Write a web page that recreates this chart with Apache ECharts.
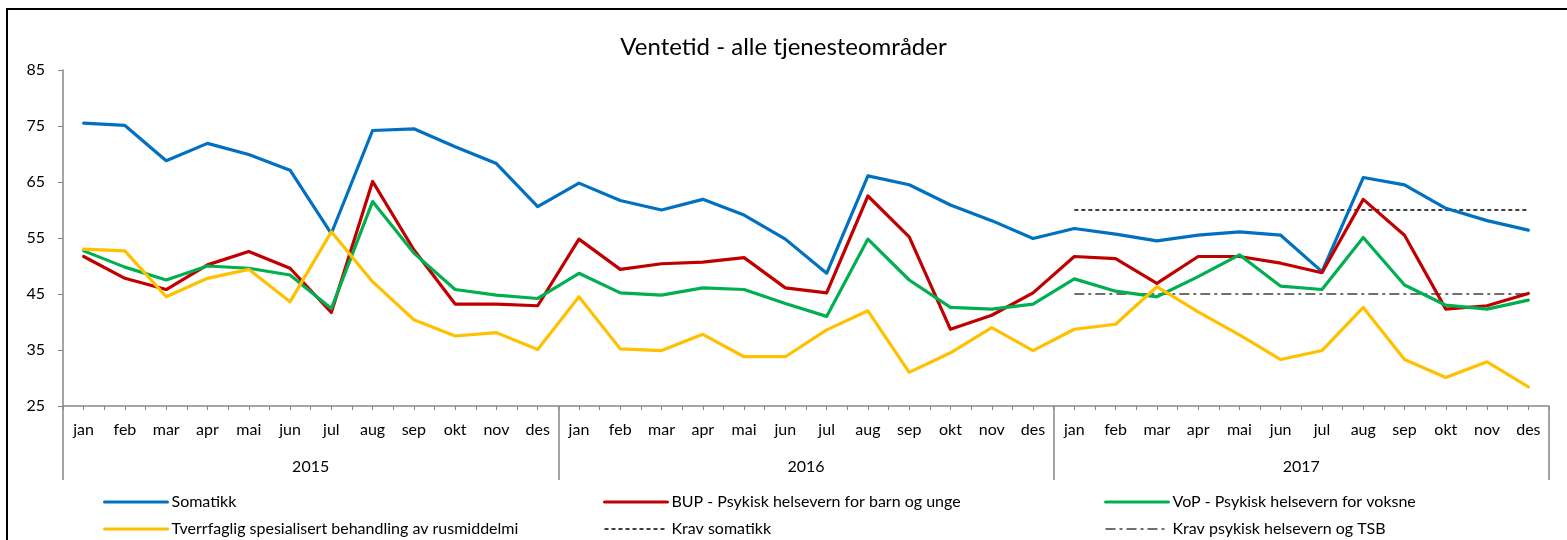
<!DOCTYPE html>
<html>
<head>
<meta charset="utf-8">
<script src="https://cdn.jsdelivr.net/npm/echarts@6/dist/echarts.min.js"></script>
<style>
html,body{margin:0;padding:0;background:#fff;}
#chart{width:1567px;height:540px;}
</style>
</head>
<body>
<div id="chart"></div>
<script>
const monthNames = ['jan','feb','mar','apr','mai','jun','jul','aug','sep','okt','nov','des'];
const years = ['2015','2016','2017'];
const yTicks = {min: 25, max: 85, interval: 10};

const somatikk = [75.5,75.1,68.8,71.9,69.9,67.1,55.8,74.2,74.5,71.3,68.3,60.6,
                  64.8,61.7,60.0,61.9,59.1,54.8,48.7,66.1,64.5,60.9,58.1,54.9,
                  56.7,55.7,54.5,55.5,56.1,55.5,49.0,65.8,64.5,60.3,58.1,56.4];
const bup = [51.7,47.8,45.8,50.2,52.6,49.6,41.7,65.1,52.9,43.2,43.2,42.9,
             54.8,49.4,50.4,50.7,51.5,46.1,45.2,62.5,55.2,38.7,41.2,45.2,
             51.7,51.3,46.9,51.7,51.7,50.5,48.8,61.9,55.5,42.3,42.9,45.1];
const vop = [52.7,49.8,47.5,50.0,49.6,48.4,42.4,61.5,52.3,45.8,44.8,44.2,
             48.7,45.2,44.8,46.1,45.8,43.3,41.0,54.8,47.5,42.6,42.3,43.2,
             47.7,45.5,44.5,48.1,52.0,46.4,45.8,55.1,46.6,43.0,42.3,43.9];
const tsb = [53.0,52.7,44.5,47.8,49.4,43.6,56.1,47.2,40.4,37.5,38.1,35.1,
             44.5,35.2,34.9,37.8,33.8,33.8,38.6,42.0,31.0,34.5,39.0,34.9,
             38.7,39.6,46.3,41.8,37.7,33.3,34.9,42.6,33.3,30.1,32.9,28.4];
const kravSomatikk = [null,null,null,null,null,null,null,null,null,null,null,null,
                      null,null,null,null,null,null,null,null,null,null,null,null,
                      60,60,60,60,60,60,60,60,60,60,60,60];
const kravPsykisk = [null,null,null,null,null,null,null,null,null,null,null,null,
                     null,null,null,null,null,null,null,null,null,null,null,null,
                     45,45,45,45,45,45,45,45,45,45,45,45];

const seriesNames = ['Somatikk','BUP - Psykisk helsevern for barn og unge','VoP - Psykisk helsevern for voksne',
  'Tverrfaglig spesialisert behandling av rusmiddelmi','Krav somatikk','Krav psykisk helsevern og TSB'];

const categories = years.flatMap(y => monthNames.map(m => m));
const halfTicks = categories.flatMap(() => ['', '']);

const FONT = 'Lato, "Open Sans", sans-serif';
const axisGray = '#868686';

const chart = echarts.init(document.getElementById('chart'));

function mainLine(name, data, color) {
  return {
    name, type: 'line', data, xAxisIndex: 0, yAxisIndex: 0,
    symbol: 'none', smooth: false, connectNulls: false,
    lineStyle: {color, width: 3.2, cap: 'round', join: 'round'},
    itemStyle: {color},
    emphasis: {disabled: true},
    z: 3
  };
}

const legendBase = {
  orient: 'vertical', itemWidth: 63, itemHeight: 14, itemGap: 11,
  top: 494, padding: 0,
  itemStyle: {opacity: 0},
  textStyle: {fontFamily: FONT, fontSize: 16, color: '#000', padding: [0,0,0,-1]},
  selectedMode: false
};
const thick = name => ({name, lineStyle: {width: 3}});
const thin = name => ({name, lineStyle: {width: 1.5}});

chart.setOption({
  backgroundColor: '#fff',
  animation: false,
  title: {
    text: 'Ventetid - alle tjenesteområder',
    left: 'center', top: 30,
    textStyle: {fontFamily: FONT, fontSize: 24, fontWeight: 'normal', color: '#000'}
  },
  graphic: [{
    type: 'rect', shape: {x: 7, y: 9, width: 1580, height: 560},
    style: {fill: 'none', stroke: '#000', lineWidth: 2}, silent: true, z: 100
  }],
  grid: {left: 63, right: 18, top: 70, bottom: 134, containLabel: false},
  legend: [
    Object.assign({}, legendBase, {left: 103, data: [thick(seriesNames[0]), thick(seriesNames[3])]}),
    Object.assign({}, legendBase, {left: 603, data: [thick(seriesNames[1]), thin(seriesNames[4])]}),
    Object.assign({}, legendBase, {left: 1104, data: [thick(seriesNames[2]), thin(seriesNames[5])]})
  ],
  xAxis: [
    {
      type: 'category', data: categories, boundaryGap: true, position: 'bottom',
      axisLine: {show: true, lineStyle: {color: axisGray, width: 1.5}},
      axisTick: {show: false},
      axisLabel: {interval: 0, margin: 16, fontFamily: FONT, fontSize: 16, color: '#000'},
      splitLine: {show: false}
    },
    {
      type: 'category', data: halfTicks, boundaryGap: true, position: 'bottom',
      axisLine: {show: false},
      axisTick: {show: true, interval: 0, length: 4, lineStyle: {color: axisGray, width: 1}},
      axisLabel: {show: false},
      splitLine: {show: false}
    },
    {
      type: 'category', data: years, boundaryGap: true, position: 'bottom',
      axisLine: {show: false},
      axisTick: {show: true, interval: 0, length: 74, lineStyle: {color: axisGray, width: 1.5}},
      axisLabel: {interval: 0, margin: 53, fontFamily: FONT, fontSize: 16, color: '#000'},
      splitLine: {show: false}
    }
  ],
  yAxis: {
    type: 'value', min: yTicks.min, max: yTicks.max, interval: yTicks.interval,
    axisLine: {show: true, lineStyle: {color: axisGray, width: 1.5}},
    axisTick: {show: true, length: 5, lineStyle: {color: axisGray}},
    axisLabel: {margin: 18, fontFamily: FONT, fontSize: 16, color: '#000'},
    splitLine: {show: false}
  },
  series: [
    mainLine(seriesNames[0], somatikk, '#0070C0'),
    mainLine(seriesNames[1], bup, '#C00000'),
    mainLine(seriesNames[2], vop, '#00B050'),
    mainLine(seriesNames[3], tsb, '#FFC000'),
    {
      name: seriesNames[4], type: 'line', data: kravSomatikk, symbol: 'none',
      lineStyle: {color: '#000', width: 1.5, type: [4, 3]}, itemStyle: {color: '#000'},
      emphasis: {disabled: true}, z: 2
    },
    {
      name: seriesNames[5], type: 'line', data: kravPsykisk, symbol: 'none',
      lineStyle: {color: '#404040', width: 1.5, type: [10, 4, 3, 4]}, itemStyle: {color: '#404040'},
      emphasis: {disabled: true}, z: 2
    }
  ]
});
</script>
</body>
</html>
